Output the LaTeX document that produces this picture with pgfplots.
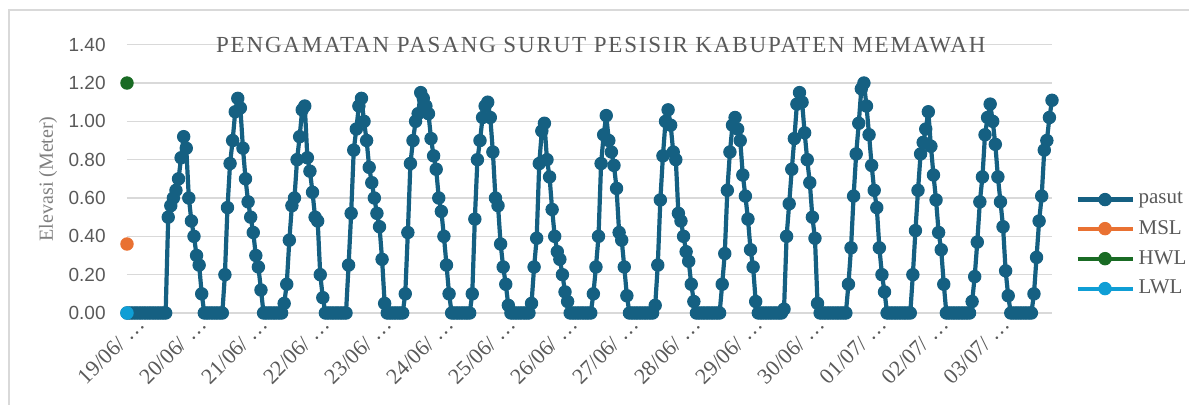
\documentclass[border=0pt]{standalone}
\usepackage{fontspec}
\setmainfont{Liberation Serif}
\setsansfont{Liberation Sans}
\newfontfamily\titlefont[LetterSpace=8]{Liberation Serif}
\usepackage{pgfplots}
\pgfplotsset{compat=1.18}
\definecolor{pasut}{HTML}{156082}
\definecolor{msl}{HTML}{E97132}
\definecolor{hwl}{HTML}{196B24}
\definecolor{lwl}{HTML}{0F9ED5}
\definecolor{txt}{HTML}{595959}
\definecolor{lbl}{HTML}{7F7F7F}
\definecolor{gridc}{HTML}{D9D9D9}
\begin{document}
\begin{tikzpicture}
\path[use as bounding box] (-63.5pt,-46pt) rectangle (531pt,156.5pt);
\draw[gridc, line width=0.7pt] (-59pt,-46pt) -- (-59pt,151.5pt) -- (531pt,151.5pt);
\begin{axis}[
  at={(0,0)}, anchor=south west,
  scale only axis, width=462.5pt, height=134.15pt,
  xmin=0, xmax=359, ymin=0, ymax=1.4,
  clip=false,
  axis line style={draw=none},
  major tick length=0pt,
  ytick={0,0.2,0.4,0.6,0.8,1,1.2,1.4},
  ymajorgrids, grid style={gridc, line width=0.75pt},
  /pgf/number format/fixed, /pgf/number format/fixed zerofill,
  /pgf/number format/precision=2, /pgf/number format/assume math mode=true,
  yticklabel style={font=\fontsize{9.5}{11}\sffamily, text=txt, anchor=east, inner sep=0pt, xshift=-10.5pt},
  xtick={0,24,48,72,96,120,144,168,192,216,240,264,288,312,336},
  xticklabels={19/06/ …,20/06/ …,21/06/ …,22/06/ …,23/06/ …,24/06/ …,25/06/ …,26/06/ …,27/06/ …,28/06/ …,29/06/ …,30/06/ …,01/07/ …,02/07/ …,03/07/ …},
  xticklabel style={font=\fontsize{11}{13}\selectfont, text=txt, anchor=east, inner sep=0pt, xshift=7pt, yshift=-4pt, rotate=45},
  ylabel={Elevasi (Meter)},
  ylabel style={at={(axis description cs:-0.0854,0.5)}, anchor=center, font=\fontsize{10}{12}\selectfont, text=lbl},
  legend style={at={(axis description cs:1.0249,0.255)}, anchor=west, draw=none, fill=none, inner sep=0pt, row sep=2.6pt, font=\fontsize{10.5}{12}\selectfont, text=txt, /tikz/every even column/.append style={column sep=2pt}},
  legend cell align=left,
  legend image code/.code={\draw[mark repeat=2, mark phase=2, #1] plot coordinates {(0pt,0pt) (13.75pt,0pt) (27.5pt,0pt)};},
  every axis plot/.append style={line width=2.1pt, line join=round, mark=*, mark size=3.1pt, mark options={solid, line width=0.5pt}},
]
\addplot[color=pasut]
 table[x expr=\coordindex, y index=0, header=false, row sep=\\] {
0\\0\\0\\0\\0\\0\\0\\0\\0\\0\\0\\0\\0\\0\\0\\0\\
0.50\\0.56\\0.60\\0.64\\0.70\\0.81\\0.92\\0.86\\0.60\\0.48\\0.40\\0.30\\0.25\\0.10\\
0\\0\\0\\0\\0\\0\\0\\0\\
0.20\\0.55\\0.78\\0.90\\1.05\\1.12\\1.07\\0.86\\0.70\\0.58\\0.50\\0.42\\0.30\\0.24\\0.12\\
0\\0\\0\\0\\0\\0\\0\\0\\
0.05\\0.15\\0.38\\0.56\\0.60\\0.80\\0.92\\1.06\\1.08\\0.81\\0.74\\0.63\\0.50\\0.48\\0.20\\0.08\\
0\\0\\0\\0\\0\\0\\0\\0\\0\\
0.25\\0.52\\0.85\\0.96\\1.08\\1.12\\1.00\\0.90\\0.76\\0.68\\0.60\\0.52\\0.45\\0.28\\0.05\\
0\\0\\0\\0\\0\\0\\0\\
0.10\\0.42\\0.78\\0.90\\1.00\\1.04\\1.15\\1.12\\1.08\\1.04\\0.91\\0.82\\0.75\\0.60\\0.53\\0.40\\0.25\\0.10\\
0\\0\\0\\0\\0\\0\\0\\0\\
0.10\\0.49\\0.80\\0.90\\1.02\\1.08\\1.10\\1.02\\0.84\\0.60\\0.56\\0.36\\0.24\\0.15\\0.04\\
0\\0\\0\\0\\0\\0\\0\\0\\
0.05\\0.24\\0.39\\0.78\\0.95\\0.99\\0.80\\0.71\\0.54\\0.40\\0.32\\0.28\\0.20\\0.11\\0.06\\
0\\0\\0\\0\\0\\0\\0\\0\\0\\
0.10\\0.24\\0.40\\0.78\\0.93\\1.03\\0.90\\0.84\\0.77\\0.65\\0.42\\0.38\\0.24\\0.09\\
0\\0\\0\\0\\0\\0\\0\\0\\0\\0\\
0.04\\0.25\\0.59\\0.82\\1.00\\1.06\\0.98\\0.84\\0.80\\0.52\\0.48\\0.40\\0.32\\0.27\\0.15\\0.06\\
0\\0\\0\\0\\0\\0\\0\\0\\0\\0\\
0.15\\0.31\\0.64\\0.84\\0.98\\1.02\\0.96\\0.90\\0.72\\0.61\\0.49\\0.33\\0.24\\0.06\\
0\\0\\0\\0\\0\\0\\0\\0\\0\\0\\
0.02\\0.40\\0.57\\0.75\\0.91\\1.09\\1.15\\1.10\\0.94\\0.80\\0.68\\0.50\\0.39\\0.05\\
0\\0\\0\\0\\0\\0\\0\\0\\0\\0\\0\\
0.15\\0.34\\0.61\\0.83\\0.99\\1.17\\1.20\\1.08\\0.93\\0.77\\0.64\\0.55\\0.34\\0.20\\0.11\\
0\\0\\0\\0\\0\\0\\0\\0\\0\\0\\
0.20\\0.43\\0.64\\0.83\\0.89\\0.96\\1.05\\0.87\\0.72\\0.59\\0.42\\0.33\\0.15\\
0\\0\\0\\0\\0\\0\\0\\0\\0\\0\\
0.06\\0.19\\0.37\\0.58\\0.71\\0.93\\1.02\\1.09\\1.00\\0.88\\0.71\\0.58\\0.45\\0.22\\0.09\\
0\\0\\0\\0\\0\\0\\0\\0\\0\\
0.10\\0.29\\0.48\\0.61\\0.85\\0.90\\1.02\\1.11\\
};
\addlegendentry{pasut}
\addplot[color=msl] coordinates {(0,0.36)};
\addlegendentry{MSL}
\addplot[color=hwl] coordinates {(0,1.20)};
\addlegendentry{HWL}
\addplot[color=lwl] coordinates {(0,0)};
\addlegendentry{LWL}
\node[anchor=base, font=\fontsize{11.5}{13}\titlefont, text=txt] at (axis cs:183.9,1.357) {PENGAMATAN PASANG SURUT PESISIR KABUPATEN MEMAWAH};
\end{axis}
\end{tikzpicture}
\end{document}
